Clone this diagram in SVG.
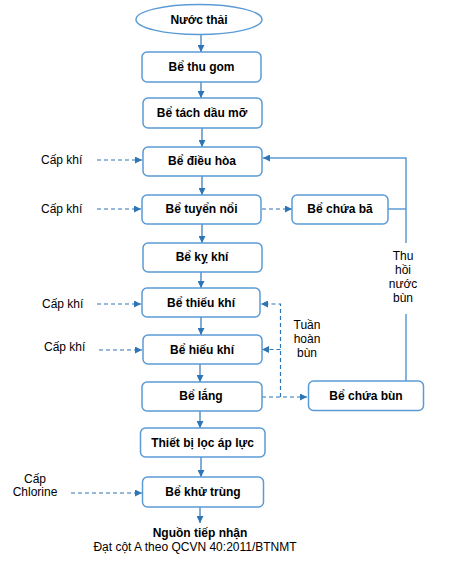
<svg xmlns="http://www.w3.org/2000/svg" width="459" height="571" viewBox="0 0 459 571">
<style>
.box{fill:#fff;stroke:#5B9BD5;stroke-width:1.5}
.bt{font-family:"Liberation Sans",Arial,sans-serif;font-size:12px;font-weight:bold;fill:#000;text-anchor:middle}
.lt{font-family:"Liberation Sans",Arial,sans-serif;font-size:12px;fill:#000}
.c{stroke:#2E75B6;stroke-width:1.2;fill:none}
.d{stroke:#2E75B6;stroke-width:1.2;fill:none;stroke-dasharray:4,3}
.r{stroke:#5B9BD5;stroke-width:1.5;fill:none}
</style>
<defs>
<marker id="ah" viewBox="0 0 10 10" refX="10" refY="5" markerWidth="7" markerHeight="7" markerUnits="userSpaceOnUse" orient="auto">
<path d="M0,0 L10,5 L0,10 z" fill="#2E75B6"/>
</marker>
</defs>
<g id="connectors">
<line class="c" x1="201" y1="35" x2="201" y2="52" marker-end="url(#ah)"/>
<line class="c" x1="201" y1="82" x2="201" y2="98" marker-end="url(#ah)"/>
<line class="c" x1="202" y1="128" x2="202" y2="147" marker-end="url(#ah)"/>
<line class="c" x1="202" y1="176" x2="202" y2="195" marker-end="url(#ah)"/>
<line class="c" x1="202" y1="224" x2="202" y2="243" marker-end="url(#ah)"/>
<line class="c" x1="201" y1="272" x2="201" y2="288" marker-end="url(#ah)"/>
<line class="c" x1="201" y1="317" x2="201" y2="335" marker-end="url(#ah)"/>
<line class="c" x1="200" y1="364" x2="200" y2="382" marker-end="url(#ah)"/>
<line class="c" x1="200" y1="411" x2="200" y2="428" marker-end="url(#ah)"/>
<line class="c" x1="201" y1="457" x2="201" y2="477" marker-end="url(#ah)"/>
<line class="c" x1="200" y1="507" x2="200" y2="523" marker-end="url(#ah)"/>
<line class="d" x1="97" y1="160" x2="142" y2="160" marker-end="url(#ah)"/>
<line class="d" x1="97" y1="209" x2="141" y2="209" marker-end="url(#ah)"/>
<line class="d" x1="97" y1="304" x2="141" y2="304" marker-end="url(#ah)"/>
<line class="d" x1="99" y1="350" x2="142" y2="350" marker-end="url(#ah)"/>
<line class="d" x1="71" y1="493" x2="142" y2="493" marker-end="url(#ah)"/>
<line class="d" x1="262" y1="209" x2="292" y2="209" marker-end="url(#ah)"/>
<polyline class="r" points="388,209 406,209"/>
<polyline class="r" points="406,243 406,158 263,158" marker-end="url(#ah)"/>
<line class="r" x1="406" y1="314" x2="406" y2="381"/>
<polyline class="d" points="262,397 307,397" marker-end="url(#ah)"/>
<polyline class="d" points="280.5,397 280.5,304 261,304" marker-end="url(#ah)"/>
<polyline class="d" points="280.5,349.5 262,349.5" marker-end="url(#ah)"/>
</g>
<g id="n-nuocthai"><ellipse class="box" cx="199" cy="19.5" rx="63" ry="15"/><text class="bt" x="199" y="24">Nước thải</text></g>
<g id="n-thugom"><rect class="box" x="142" y="52" width="119" height="30" rx="5"/><text class="bt" x="201.5" y="71">Bể thu gom</text></g>
<g id="n-tachdau"><rect class="box" x="143" y="98" width="119" height="30" rx="5"/><text class="bt" x="202" y="117">Bể tách dầu mỡ</text></g>
<g id="n-dieuhoa"><rect class="box" x="143" y="147" width="119" height="29" rx="5"/><text class="bt" x="202" y="165">Bể điều hòa</text></g>
<g id="n-tuyennoi"><rect class="box" x="142" y="195" width="119" height="29" rx="5"/><text class="bt" x="201.5" y="213">Bể tuyển nổi</text></g>
<g id="n-chuaba"><rect class="box" x="292" y="195" width="96" height="29" rx="5"/><text class="bt" x="340" y="213">Bể chứa bã</text></g>
<g id="n-kykhi"><rect class="box" x="143" y="243" width="119" height="29" rx="5"/><text class="bt" x="202" y="261">Bể kỵ khí</text></g>
<g id="n-thieukhi"><rect class="box" x="142" y="288" width="118" height="29" rx="5"/><text class="bt" x="201" y="306.5">Bể thiếu khí</text></g>
<g id="n-hieukhi"><rect class="box" x="143" y="335" width="119" height="29" rx="5"/><text class="bt" x="202" y="353.5">Bể hiếu khí</text></g>
<g id="n-lang"><rect class="box" x="142" y="382" width="120" height="29" rx="5"/><text class="bt" x="201" y="400">Bể lắng</text></g>
<g id="n-loc"><rect class="box" x="140.5" y="428" width="124.5" height="29" rx="5"/><text class="bt" x="202.5" y="446.5">Thiết bị lọc áp lực</text></g>
<g id="n-khutrung"><rect class="box" x="142.5" y="477" width="121" height="30" rx="5"/><text class="bt" x="203" y="496">Bể khử trùng</text></g>
<g id="n-chuabun"><rect class="box" x="308.5" y="381" width="115" height="29.5" rx="5"/><text class="bt" x="366" y="399.5">Bể chứa bùn</text></g>
<g id="n-nguon"><text class="bt" x="200" y="537">Nguồn  tiếp nhận</text><text class="lt" x="195" y="551" text-anchor="middle">Đạt cột A theo QCVN 40:2011/BTNMT</text></g>
<g id="labels">
<text class="lt" x="41" y="164">Cấp khí</text>
<text class="lt" x="41" y="213">Cấp khí</text>
<text class="lt" x="42" y="308">Cấp khí</text>
<text class="lt" x="44" y="351">Cấp khí</text>
<text class="lt" x="35" y="483" text-anchor="middle">Cấp</text>
<text class="lt" x="35" y="496" text-anchor="middle">Chlorine</text>
<text class="lt" text-anchor="middle" x="403"><tspan x="403" y="259.5">Thu</tspan><tspan x="403" y="273.5">hồi</tspan><tspan x="403" y="287.5">nước</tspan><tspan x="403" y="301.5">bùn</tspan></text>
<text class="lt" text-anchor="middle" x="307"><tspan x="307" y="328.5">Tuần</tspan><tspan x="307" y="342.5">hoàn</tspan><tspan x="307" y="356.5">bùn</tspan></text>
</g>
</svg>
